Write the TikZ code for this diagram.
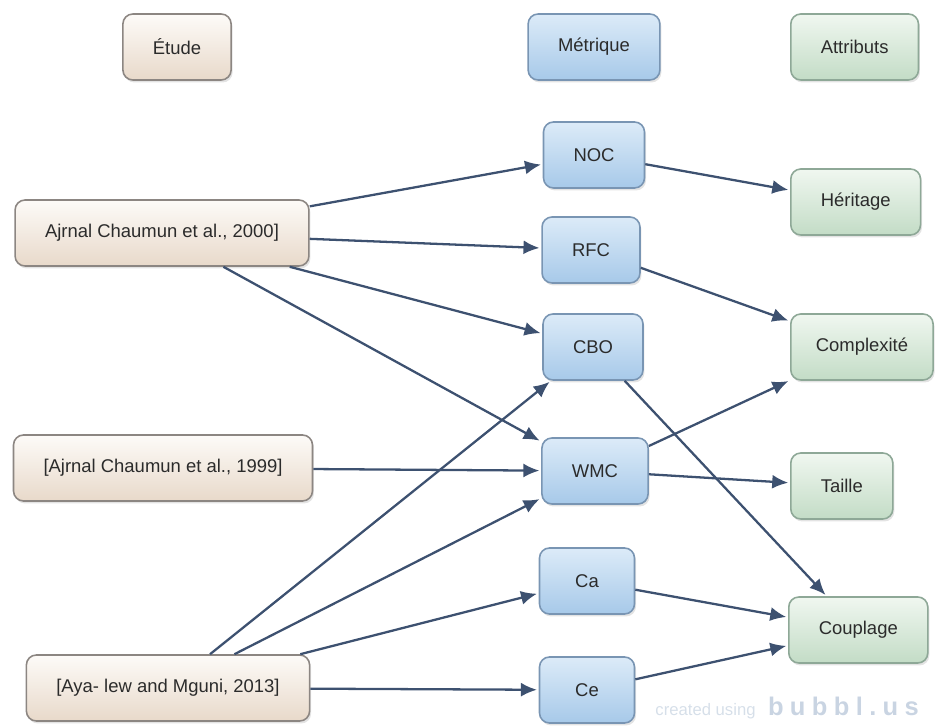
\documentclass[tikz,border=0pt]{standalone}
\usepackage{fontspec}
\setmainfont{Liberation Sans}
\newfontfamily\logofont[LetterSpace=25]{Liberation Sans}
\usetikzlibrary{arrows.meta,shadows}
\definecolor{texte}{HTML}{2B2B2B}
\definecolor{ardoise}{HTML}{3D5170}
\definecolor{beigeh}{HTML}{FDFBF8}
\definecolor{beiget}{HTML}{E8D9CA}
\definecolor{beiger}{HTML}{8C8682}
\definecolor{bleuh}{HTML}{DCEBF8}
\definecolor{bleut}{HTML}{A7C9E9}
\definecolor{bleur}{HTML}{7995B3}
\definecolor{verth}{HTML}{F0F7F0}
\definecolor{vertt}{HTML}{C3DCC6}
\definecolor{vertr}{HTML}{8EA897}
\definecolor{filigrane}{HTML}{C9D4E2}
\tikzset{
  boite/.style={rounded corners=0.2cm,line width=0.9pt,inner xsep=0.6cm,minimum width=1.9cm,
    minimum height=1.32cm,text=texte,drop shadow={opacity=0.22,shadow xshift=0.03cm,shadow yshift=-0.05cm}},
  etude/.style={boite,draw=beiger,top color=beigeh,bottom color=beiget},
  metrique/.style={boite,draw=bleur,top color=bleuh,bottom color=bleut},
  attribut/.style={boite,draw=vertr,top color=verth,bottom color=vertt,anchor=west},
  fleche/.style={-{Latex[length=3.2mm,width=2.8mm]},ardoise,line width=1.3pt,shorten >=1pt},
}

\begin{document}
\begin{tikzpicture}[font=\fontsize{10.5}{12}\selectfont]
  \useasboundingbox (0,0) rectangle (18.76,14.52);
  % filigrane
  \node[anchor=east,text=filigrane,font=\logofont\bfseries\fontsize{14.5}{16}\selectfont] (logo) at (18.50,0.40) {bubbl.us};
  \node[anchor=base east,text=filigrane!75,font=\fontsize{9.5}{11}\selectfont] (credit) at (logo.base west) {created using};
  % en-tetes
  \node[etude] (tetude) at (3.54,13.58) {Étude};
  \node[metrique] (tmetrique) at (11.88,13.58) {Métrique};
  \node[attribut] (tattribut) at (15.80,13.58) {Attributs};
  % etudes
  \node[etude] (aj2000) at (3.24,9.86) {Ajrnal Chaumun et al., 2000]};
  \node[etude] (aj1999) at (3.26,5.16) {[Ajrnal Chaumun et al., 1999]};
  \node[etude] (aya) at (3.36,0.76) {[Aya- lew and Mguni, 2013]};
  % metriques
  \node[metrique] (noc) at (11.88,11.42) {NOC};
  \node[metrique] (rfc) at (11.82,9.52) {RFC};
  \node[metrique] (cbo) at (11.86,7.58) {CBO};
  \node[metrique] (wmc) at (11.90,5.10) {WMC};
  \node[metrique] (ca) at (11.74,2.90) {Ca};
  \node[metrique] (ce) at (11.74,0.72) {Ce};
  % attributs
  \node[attribut] (heritage) at (15.80,10.48) {Héritage};
  \node[attribut,inner xsep=0.5cm] (complexite) at (15.80,7.58) {Complexité};
  \node[attribut] (taille) at (15.80,4.80) {Taille};
  \node[attribut] (couplage) at (15.76,1.92) {Couplage};
  % liens
  \foreach \a/\b in {aj2000/noc,aj2000/rfc,aj2000/cbo,aj2000/wmc,aj1999/wmc,
      aya/cbo,aya/wmc,aya/ca,aya/ce,noc/heritage,rfc/complexite,cbo/couplage,
      wmc/complexite,wmc/taille,ca/couplage,ce/couplage}
    \draw[fleche] (\a) -- (\b);
\end{tikzpicture}
\end{document}
